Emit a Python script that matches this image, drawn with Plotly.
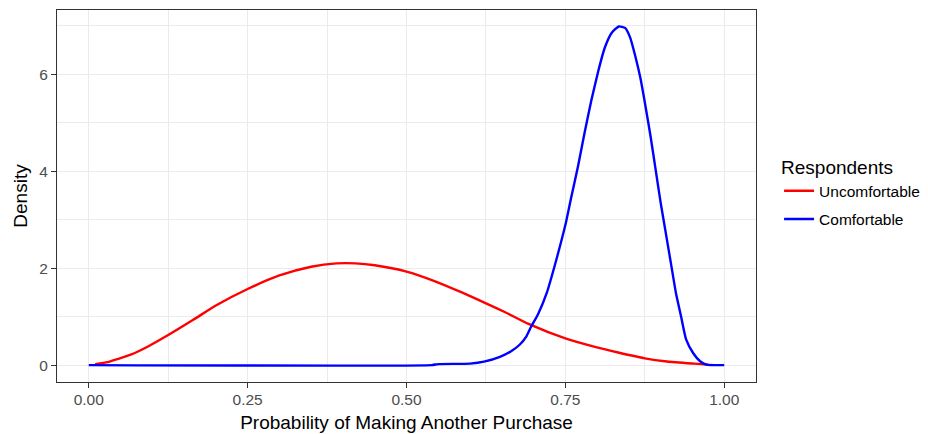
import plotly.graph_objects as go

# Density curves
red_x = [0.010, 0.030, 0.045, 0.066, 0.094, 0.125, 0.165, 0.200, 0.250, 0.300,
         0.350, 0.390, 0.420, 0.450, 0.500, 0.545, 0.587, 0.626, 0.657, 0.692,
         0.750, 0.798, 0.833, 0.875, 0.910, 0.953, 0.975]
red_y = [0.02, 0.06, 0.125, 0.215, 0.39, 0.62, 0.94, 1.23, 1.57, 1.85,
         2.03, 2.10, 2.10, 2.06, 1.93, 1.73, 1.50, 1.27, 1.08, 0.85,
         0.55, 0.37, 0.26, 0.14, 0.075, 0.03, 0.01]

blue_x = [0.000, 0.540, 0.550, 0.600, 0.622, 0.647, 0.664, 0.678, 0.689, 0.696,
          0.707, 0.721, 0.733, 0.743, 0.751, 0.759, 0.770, 0.780, 0.791, 0.802,
          0.812, 0.823, 0.834, 0.844, 0.852, 0.860, 0.868, 0.876, 0.884, 0.892,
          0.900, 0.908, 0.916, 0.924, 0.932, 0.940, 0.951, 0.962, 0.972, 1.000]
blue_y = [0.00, 0.00, 0.02, 0.03, 0.07, 0.17, 0.28, 0.42, 0.60, 0.79,
          1.05, 1.50, 2.04, 2.53, 2.95, 3.45, 4.11, 4.78, 5.47, 6.08,
          6.55, 6.86, 6.99, 6.96, 6.76, 6.38, 5.93, 5.35, 4.73, 4.04,
          3.35, 2.73, 2.11, 1.49, 1.01, 0.53, 0.25, 0.08, 0.01, 0.00]

x_ticks = [0, 0.25, 0.5, 0.75, 1.0]
x_tick_labels = ["0.00", "0.25", "0.50", "0.75", "1.00"]
y_ticks = [0, 2, 4, 6]
y_tick_labels = ["0", "2", "4", "6"]

FONT = "Liberation Sans, Arial, sans-serif"
GRID = "#EBEBEB"

fig = go.Figure()
fig.add_trace(go.Scatter(x=red_x, y=red_y, mode="lines", name="Uncomfortable",
                         line=dict(color="#FF0000", width=2.4, shape="spline", smoothing=0.6),
                         legendgroup="a"))
fig.add_trace(go.Scatter(x=blue_x, y=blue_y, mode="lines", name="Comfortable",
                         line=dict(color="#0000FF", width=2.4, shape="spline", smoothing=0.5),
                         legendgroup="b"))

# page has an 8px body margin, so the figure is 920x426 placed at (8, 8)
fig.update_layout(
    width=920, height=426,
    margin=dict(l=49, r=172, t=2, b=52, autoexpand=False),
    paper_bgcolor="white", plot_bgcolor="white",
    font=dict(family=FONT, color="#000000"),
    legend=dict(
        title=dict(text="Respondents", font=dict(size=19, color="#000000")),
        font=dict(size=15.5, color="#000000"),
        x=1.033, xanchor="left", y=0.625, yanchor="top",
        tracegroupgap=5, itemwidth=30, bgcolor="rgba(0,0,0,0)",
    ),
    showlegend=True,
)

fig.update_xaxes(
    automargin=True,
    range=[-0.05, 1.05], tickvals=x_ticks, ticktext=x_tick_labels,
    showgrid=True, gridcolor=GRID, gridwidth=1.2,
    minor=dict(showgrid=True, gridcolor=GRID, gridwidth=0.6, dtick=0.125, tick0=0),
    zeroline=False,
    ticks="outside", ticklen=5, tickcolor="#333333", tickwidth=1,
    tickfont=dict(size=15.5, color="#4D4D4D"),
    ticklabelstandoff=-2,
    showline=True, linecolor="#333333", linewidth=1, mirror=True,
    title=dict(text="Probability of Making Another Purchase",
               font=dict(size=19, color="#000000"), standoff=9),
)
fig.update_yaxes(
    automargin=True,
    range=[-0.349, 7.33], tickvals=y_ticks, ticktext=y_tick_labels,
    showgrid=True, gridcolor=GRID, gridwidth=1.2,
    minor=dict(showgrid=True, gridcolor=GRID, gridwidth=0.6, dtick=1, tick0=1),
    zeroline=False,
    ticks="outside", ticklen=5, tickcolor="#333333", tickwidth=1,
    tickfont=dict(size=15.5, color="#4D4D4D"),
    ticklabelstandoff=0,
    showline=True, linecolor="#333333", linewidth=1, mirror=True,
    title=dict(text="Density", font=dict(size=19, color="#000000"), standoff=6),
)

fig.write_html("out.html")
